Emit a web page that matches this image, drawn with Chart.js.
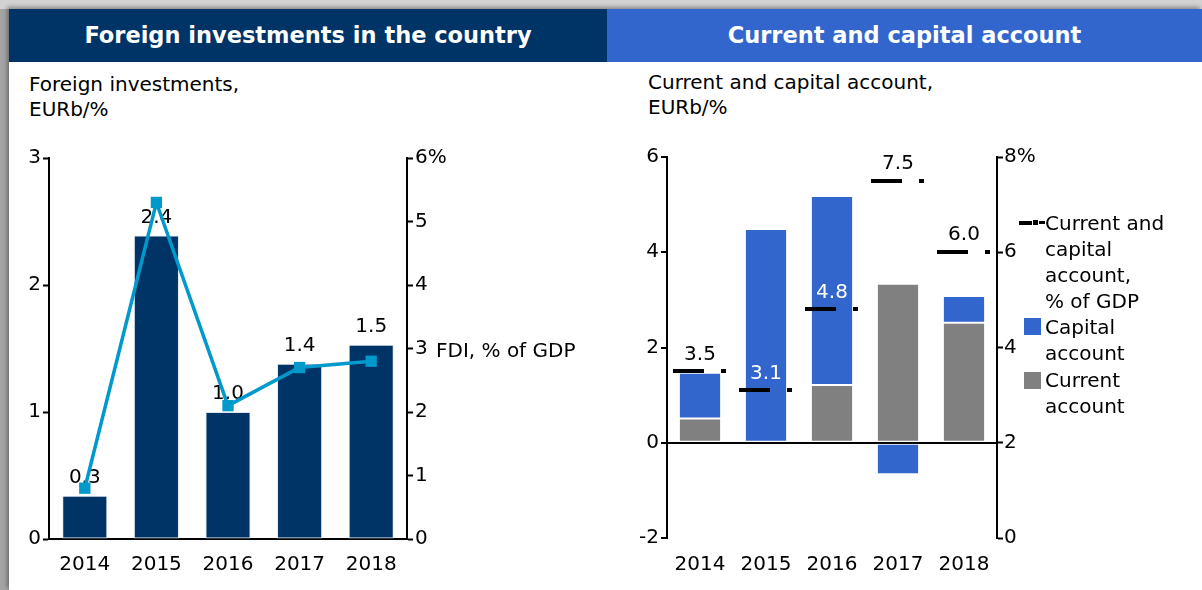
<!DOCTYPE html>
<html>
<head>
<meta charset="utf-8">
<script src="https://cdn.jsdelivr.net/npm/chart.js"></script>
<style>
  body { margin: 0; width: 1202px; height: 590px; overflow: hidden; position: relative;
         background: #d2d2d2; font-family: "DejaVu Sans", Verdana, sans-serif; }
  #leftStrip { position: absolute; left: 0; top: 9px; width: 9px; height: 581px; background: #a4a4a4; }
  #frame { position: absolute; left: 9px; top: 9px; width: 1193px; height: 581px; background: #fff;
           box-shadow: -2px -2px 4px rgba(0,0,0,0.35); }
  .hdr { position: absolute; top: 9px; height: 53px; line-height: 53px; color: #fff;
         font-weight: bold; font-size: 22.5px; text-align: center; white-space: nowrap; }
  .sub { position: absolute; font-size: 20px; line-height: 25px; color: #000; white-space: nowrap; }
  .wrap { position: absolute; top: 62px; height: 528px; }
  .lg { position: absolute; left: 1045px; font-size: 20px; line-height: 26px; color: #000; white-space: nowrap; }
  .sw { position: absolute; left: 1024px; width: 17px; height: 17px; }
</style>
</head>
<body>
<div id="leftStrip"></div>
<div id="frame"></div>

<div class="hdr" style="left:9px;width:598px;background:#003366;">Foreign investments in the country</div>
<div class="hdr" style="left:607px;width:595px;background:#3366cc;">Current and capital account</div>

<div class="sub" style="left:29px;top:72px;">Foreign investments,<br>EURb/%</div>
<div class="sub" style="left:648px;top:70px;">Current and capital account,<br>EURb/%</div>

<div class="wrap" style="left:9px;width:597px;"><canvas id="fdiChart"></canvas></div>
<div class="wrap" style="left:607px;width:595px;"><canvas id="accChart"></canvas></div>

<div class="sub" style="left:436px;top:338px;">FDI, % of GDP</div>

<!-- legend of the right chart -->
<div style="position:absolute;left:1019px;top:221px;width:13px;height:4px;background:#000;"></div>
<div style="position:absolute;left:1033px;top:220px;width:5px;height:5px;background:#000;"></div>
<div style="position:absolute;left:1039px;top:221px;width:6px;height:3px;background:#000;"></div>
<div class="lg" style="top:210px;">Current and<br>capital<br>account,<br>% of GDP</div>
<div class="sw" style="top:318px;background:#3366cc;"></div>
<div class="lg" style="top:314px;">Capital<br>account</div>
<div class="sw" style="top:372px;background:#808080;"></div>
<div class="lg" style="top:367px;">Current<br>account</div>

<script>
// Data
const years = ['2014', '2015', '2016', '2017', '2018'];
const fdiEurb = [0.34, 2.39, 1.0, 1.38, 1.53];      // bars, EURb
const fdiPctGdp = [0.8, 5.3, 2.1, 2.7, 2.8];        // line, % of GDP
const currentAccount = [0.51, null, 1.21, 3.34, 2.52];
const capitalAccount = [0.96, 4.49, 3.97, -0.66, 0.56];
const accPctGdp = [3.5, 3.1, 4.8, 7.5, 6.0];

// label colours for the right chart (white where text sits on a bar)
const accLabelColors = ['#000', '#fff', '#fff', '#000', '#000'];

Chart.defaults.font.family = '"DejaVu Sans", Verdana, sans-serif';
Chart.defaults.font.size = 20;
Chart.defaults.color = '#000';

// draws value labels above the elements of one dataset
const valueLabels = {
  id: 'valueLabels',
  afterDatasetDraw(chart, args, opts) {
    if (args.index !== opts.datasetIndex) return;
    const ctx = chart.ctx;
    const ds = chart.data.datasets[args.index];
    ctx.save();
    ctx.font = '20px "DejaVu Sans", Verdana, sans-serif';
    ctx.textAlign = 'center';
    ctx.textBaseline = 'middle';
    args.meta.data.forEach((el, i) => {
      const v = ds.data[i];
      if (v == null) return;
      ctx.fillStyle = opts.colors ? opts.colors[i] : '#000';
      ctx.fillText(v.toFixed(1), el.x, el.y - opts.offset);
    });
    ctx.restore();
  }
};

function fixWidth(w) { return s => { s.width = w; }; }
function fixHeight(h) { return s => { s.height = h; }; }

const axisBorder = { display: true, color: '#000', width: 2 };

// left chart
new Chart(document.getElementById('fdiChart'), {
  data: {
    labels: years,
    datasets: [
      {
        type: 'line', label: 'FDI, % of GDP', data: fdiPctGdp, yAxisID: 'y1', order: 0,
        borderColor: '#0099cc', borderWidth: 3.5, backgroundColor: '#0099cc',
        pointStyle: 'rect', pointRadius: 8, pointBorderWidth: 0, pointBackgroundColor: '#0099cc'
      },
      {
        type: 'bar', label: 'Foreign investments', data: fdiEurb, yAxisID: 'y', order: 1,
        backgroundColor: '#003366', borderColor: '#dfe6ee', borderWidth: 1, borderSkipped: false,
        categoryPercentage: 1, barPercentage: 0.63
      }
    ]
  },
  options: {
    responsive: true, maintainAspectRatio: false, animation: false,
    layout: { padding: { top: 96, left: 0, right: 0, bottom: 0 } },
    plugins: { legend: { display: false }, tooltip: { enabled: false },
               valueLabels: { datasetIndex: 1, offset: 18 } },
    scales: {
      x: {
        grid: { display: false }, border: axisBorder,
        ticks: { padding: 6, maxRotation: 0 }, afterFit: fixHeight(51)
      },
      y: {
        position: 'left', min: 0, max: 3,
        ticks: { stepSize: 1, padding: 2 },
        grid: { drawOnChartArea: false, drawTicks: true, tickLength: 6, tickColor: '#000', tickWidth: 2 },
        border: axisBorder, afterFit: fixWidth(40)
      },
      y1: {
        position: 'right', min: 0, max: 6,
        ticks: { stepSize: 1, padding: 2, callback: v => v === 6 ? '6%' : v },
        grid: { drawOnChartArea: false, drawTicks: true, tickLength: 6, tickColor: '#000', tickWidth: 2 },
        border: axisBorder, afterFit: fixWidth(199)
      }
    }
  },
  plugins: [valueLabels]
});

// dash marker used for the % of GDP series on the right chart
function dashMarker() {
  const c = document.createElement('canvas');
  c.width = 56; c.height = 4;
  const g = c.getContext('2d');
  g.fillStyle = '#000';
  g.fillRect(1, 0, 31, 4);
  g.fillRect(49, 0, 5, 4);
  return c;
}

// right chart
new Chart(document.getElementById('accChart'), {
  data: {
    labels: years,
    datasets: [
      {
        type: 'line', label: 'Current and capital account, % of GDP', data: accPctGdp, yAxisID: 'y1', order: 0,
        showLine: false, pointStyle: dashMarker(), pointRadius: 10
      },
      {
        type: 'bar', label: 'Current account', data: currentAccount, yAxisID: 'y', order: 1, stack: 'acc',
        backgroundColor: '#808080', borderColor: '#fff', borderWidth: 1, borderSkipped: false,
        categoryPercentage: 1, barPercentage: 0.64
      },
      {
        type: 'bar', label: 'Capital account', data: capitalAccount, yAxisID: 'y', order: 2, stack: 'acc',
        backgroundColor: '#3366cc', borderColor: '#fff', borderWidth: 1, borderSkipped: false,
        categoryPercentage: 1, barPercentage: 0.64
      }
    ]
  },
  options: {
    responsive: true, maintainAspectRatio: false, animation: false,
    layout: { padding: { top: 95, left: 0, right: 0, bottom: 0 } },
    plugins: { legend: { display: false }, tooltip: { enabled: false },
               valueLabels: { datasetIndex: 0, offset: 17, colors: accLabelColors } },
    scales: {
      x: {
        stacked: true, grid: { display: false }, border: { display: false },
        ticks: { padding: 7, maxRotation: 0 }, afterFit: fixHeight(52)
      },
      y: {
        position: 'left', stacked: true, min: -2, max: 6, z: 1,
        ticks: { stepSize: 2, padding: 2 },
        grid: {
          drawOnChartArea: true, drawTicks: true, tickLength: 6, tickColor: '#000', tickWidth: 2,
          lineWidth: 2, color: c => (c.tick && c.tick.value === 0) ? '#000' : 'rgba(0,0,0,0)'
        },
        border: axisBorder, afterFit: fixWidth(60)
      },
      y1: {
        position: 'right', min: 0, max: 8,
        ticks: { stepSize: 2, padding: 1, callback: v => v === 8 ? '8%' : v },
        grid: { drawOnChartArea: false, drawTicks: true, tickLength: 6, tickColor: '#000', tickWidth: 2 },
        border: axisBorder, afterFit: fixWidth(205)
      }
    }
  },
  plugins: [valueLabels]
});
</script>
</body>
</html>
